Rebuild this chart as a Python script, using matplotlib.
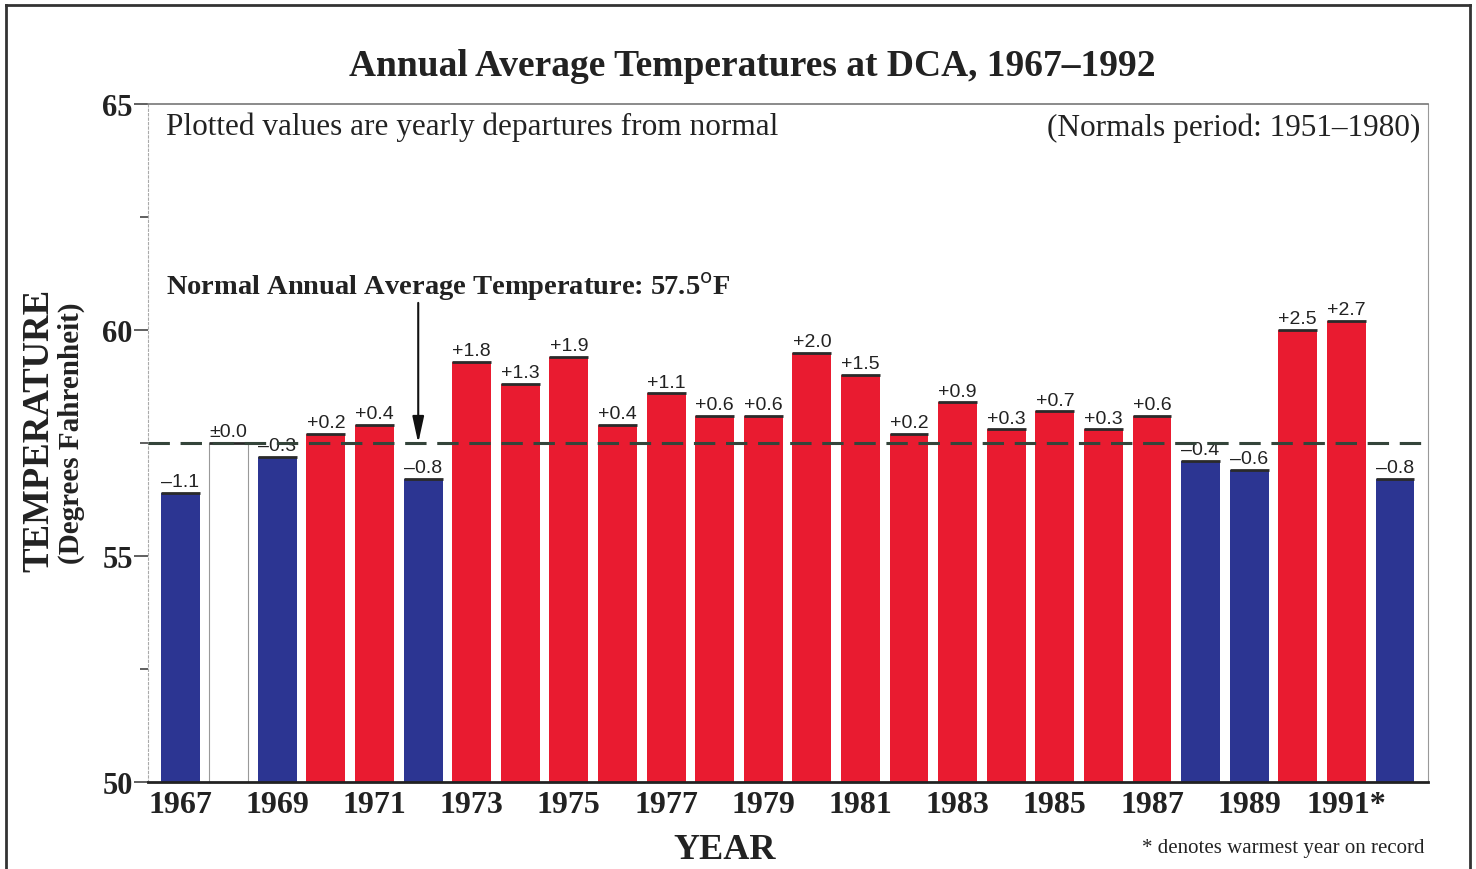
import matplotlib.pyplot as plt
from matplotlib.lines import Line2D

# data: yearly departures from the 1951-1980 normal (deg F)
years = list(range(1967, 1993))
departures = [-1.1, 0.0, -0.3, 0.2, 0.4, -0.8, 1.8, 1.3, 1.9, 0.4, 1.1, 0.6, 0.6,
              2.0, 1.5, 0.2, 0.9, 0.3, 0.7, 0.3, 0.6, -0.4, -0.6, 2.5, 2.7, -0.8]
normal = 57.5
tick_years = list(range(1967, 1992, 2))
tick_labels = [str(y) for y in tick_years[:-1]] + ['1991*']

RED = '#e91b30'
BLUE = '#2c3592'
SERIF = ['Liberation Serif', 'DejaVu Serif']


def fmt(d):
    if d > 0:
        return f'+{d:.1f}'
    if d < 0:
        return f'\u2013{abs(d):.1f}'
    return '\u00b10.0'


fig = plt.figure(figsize=(14.76, 8.7), dpi=100)
ax = fig.add_axes([0.1003, 0.1, 0.8672, 0.7793])

temps = [normal + d for d in departures]
for y, d, t in zip(years, departures, temps):
    if d > 0:
        ax.bar(y, t - 50, bottom=50, width=0.8, color=RED, zorder=2)
    elif d < 0:
        ax.bar(y, t - 50, bottom=50, width=0.8, color=BLUE, zorder=2)
    else:
        ax.bar(y, t - 50, bottom=50, width=0.8, facecolor='white',
               edgecolor='#999999', linewidth=0.8, zorder=2)
    # dark top edge of each bar
    ax.hlines(t, y - 0.4, y + 0.4, color='#2a2a2a', linewidth=2, zorder=3)
    ax.annotate(fmt(d), (y, t), xytext=(0, 2), textcoords='offset points',
                ha='center', va='bottom', fontsize=14,
                family=['Liberation Sans', 'DejaVu Sans'], color='#222222')

ax.axhline(normal, color='#34443a', linewidth=2.2, dashes=(7, 3.5), zorder=4)

ax.set_xlim(1966.34, 1992.68)
ax.set_ylim(50, 65)
ax.set_yticks([50, 55, 60, 65])
ax.set_yticks([52.5, 57.5, 62.5], minor=True)
ax.set_xticks(tick_years)
ax.set_xticklabels(tick_labels)
ax.tick_params(axis='x', length=0, pad=6, labelsize=23, labelcolor='#222222')
ax.tick_params(axis='y', which='major', length=10, width=1.2, pad=1, labelsize=22,
               labelcolor='#222222', color='#444444')
ax.tick_params(axis='y', which='minor', length=6, width=1.2, color='#444444')
for lab in ax.get_xticklabels() + ax.get_yticklabels():
    lab.set_family(SERIF)
    lab.set_fontweight('bold')

ax.spines['top'].set_color('#777777')
ax.spines['top'].set_linewidth(1.2)
ax.spines['right'].set_color('#999999')
ax.spines['right'].set_linewidth(0.8)
ax.spines['left'].set_color('#aaaaaa')
ax.spines['left'].set_linewidth(0.8)
ax.spines['left'].set_linestyle((0, (2, 2)))
ax.spines['bottom'].set_color('#222222')
ax.spines['bottom'].set_linewidth(2)

ax.text(0.014, 0.967, 'Plotted values are yearly departures from normal',
        transform=ax.transAxes, ha='left', va='center', fontsize=22.5,
        family=SERIF, color='#222222')
ax.text(0.994, 0.966, '(Normals period: 1951\u20131980)',
        transform=ax.transAxes, ha='right', va='center', fontsize=22.5,
        family=SERIF, color='#222222')
ax.text(0.014, 0.732, 'Normal Annual Average Temperature: 57.5$^{\\rm o}$F',
        transform=ax.transAxes, ha='left', va='center', fontsize=20.5,
        family=SERIF, fontweight='bold', color='#222222')
ax.annotate('', xy=(1971.9, normal), xytext=(1971.9, 60.6),
            arrowprops=dict(arrowstyle='-|>,head_length=1.6,head_width=0.35',
                            color='#111111', linewidth=1.5, shrinkA=0, shrinkB=0),
            zorder=5)

fig.text(0.510, 0.923, 'Annual Average Temperatures at DCA, 1967\u20131992',
         ha='center', va='center', fontsize=27, fontweight='bold',
         family=SERIF, color='#222222')
fig.text(0.026, 0.505, 'TEMPERATURE', rotation=90, ha='center', va='center',
         fontsize=26.5, fontweight='bold', family=SERIF, color='#222222')
fig.text(0.048, 0.502, '(Degrees Fahrenheit)', rotation=90, ha='center',
         va='center', fontsize=21, fontweight='bold', family=SERIF, color='#222222')
fig.text(0.491, 0.022, 'YEAR', ha='center', va='center', fontsize=26,
         fontweight='bold', family=SERIF, color='#222222')
fig.text(0.965, 0.025, '* denotes warmest year on record', ha='right',
         va='center', fontsize=15, family=SERIF, color='#222222')

# outer frame
frame_kw = dict(color='#333333', linewidth=2, transform=fig.transFigure)
fig.add_artist(Line2D([0.004, 0.004], [0.0, 0.993], **frame_kw))
fig.add_artist(Line2D([0.004, 0.996], [0.993, 0.993], **frame_kw))
fig.add_artist(Line2D([0.996, 0.996], [0.0, 0.993], **frame_kw))

fig.savefig('out.png', dpi=100)
